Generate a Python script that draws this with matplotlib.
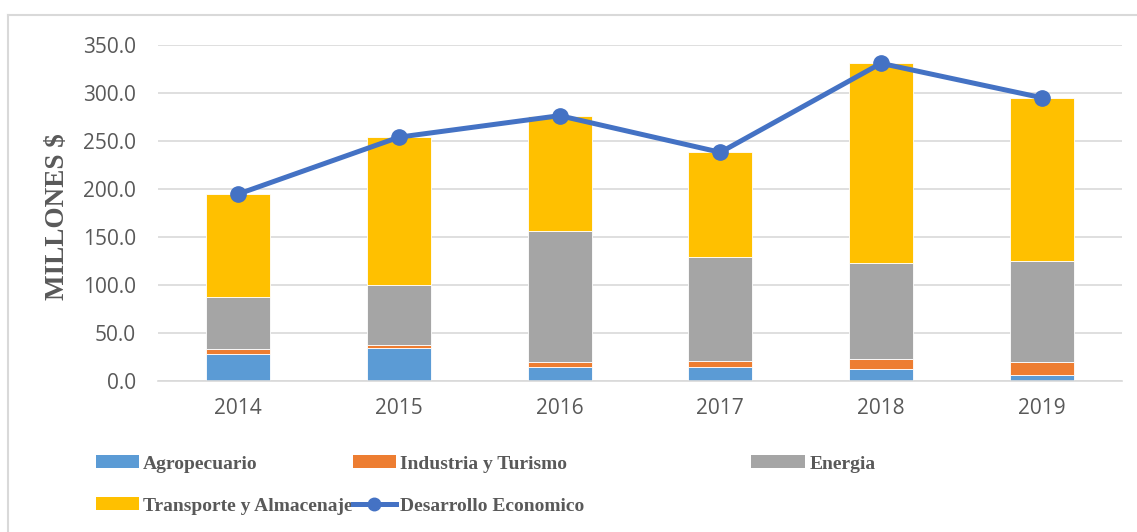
import matplotlib
matplotlib.use("Agg")
import matplotlib.pyplot as plt
from matplotlib.lines import Line2D
from matplotlib.patches import Patch
import numpy as np

years = ["2014", "2015", "2016", "2017", "2018", "2019"]
agropecuario = [27.8, 34.7, 14.9, 14.2, 12.8, 6.6]
industria = [5.2, 2.8, 4.6, 6.6, 10.1, 13.5]
energia = [54.8, 62.8, 136.7, 108.0, 100.4, 104.9]
transporte = [107.0, 153.7, 120.2, 109.4, 207.6, 170.1]
desarrollo = [194.8, 254.0, 276.4, 238.2, 330.9, 295.1]
yticks = [0, 50, 100, 150, 200, 250, 300, 350]

c_agro = "#5B9BD5"
c_ind = "#ED7D31"
c_en = "#A5A5A5"
c_tr = "#FFC000"
c_line = "#4472C4"
txt = "#595959"
grid = "#D9D9D9"

W, H = 1137, 532
fig = plt.figure(figsize=(W / 100, H / 100), dpi=100)
ax = fig.add_axes([158 / W, 1 - 381 / H, (1122 - 158) / W, (381 - 45) / H])

x = np.arange(len(years))
bw = 0.4
bottom = np.zeros(len(years))
for vals, col in [(agropecuario, c_agro), (industria, c_ind), (energia, c_en), (transporte, c_tr)]:
    ax.bar(x, vals, bw, bottom=bottom, color=col, edgecolor="white", linewidth=0.6, zorder=2)
    bottom += np.array(vals)

ax.plot(x, desarrollo, color=c_line, lw=3.6, marker="o", ms=11, zorder=3, solid_capstyle="round")

ax.set_xlim(-0.5, len(years) - 0.5)
ax.set_ylim(0, 350)
ax.set_yticks(yticks)
ax.set_yticklabels([f"{v:.1f}" for v in yticks])
ax.set_xticks(x)
ax.set_xticklabels(years)
ax.tick_params(axis="both", length=0, labelsize=15, colors=txt)
ax.tick_params(axis="y", pad=16)
ax.tick_params(axis="x", pad=12)
for lab in ax.get_xticklabels() + ax.get_yticklabels():
    lab.set_family("Open Sans")
ax.yaxis.grid(True, color=grid, lw=1.2, zorder=0)
ax.set_axisbelow(True)
for s in ["top", "right", "left"]:
    ax.spines[s].set_visible(False)
ax.spines["bottom"].set_color(grid)
ax.spines["bottom"].set_linewidth(1.2)

fig.text(58 / W, 1 - 217 / H, "MILLONES $", rotation=90, ha="center", va="center",
         family="Liberation Serif", weight="bold", fontsize=19.5, color=txt)

# outer border (left and top visible)
fig.add_artist(Line2D([8 / W, 8 / W], [0, 1 - 15 / H], color=grid, lw=1.5))
fig.add_artist(Line2D([8 / W, 1], [1 - 15 / H, 1 - 15 / H], color=grid, lw=1.5))

# legend entries
entries = [
    (Patch(facecolor=c_agro), "Agropecuario", 96, 464, 2.2),
    (Patch(facecolor=c_ind), "Industria y Turismo", 353, 464, 2.2),
    (Patch(facecolor=c_en), "Energia", 751, 464, 2.8),
    (Patch(facecolor=c_tr), "Transporte y Almacenaje", 96, 506, 2.2),
    (Line2D([], [], color=c_line, lw=3.6, marker="o", ms=9), "Desarrollo Economico", 353, 506, 2.2),
]
for h, lab, px, py, hl in entries:
    fig.legend([h], [lab], loc="center left", bbox_to_anchor=(px / W, 1 - py / H),
               frameon=False, borderpad=0, borderaxespad=0, handlelength=hl,
               handleheight=0.65, handletextpad=0.2,
               prop={"family": "Liberation Serif", "weight": "bold", "size": 14},
               labelcolor=txt)

fig.savefig("out.png", dpi=100)
